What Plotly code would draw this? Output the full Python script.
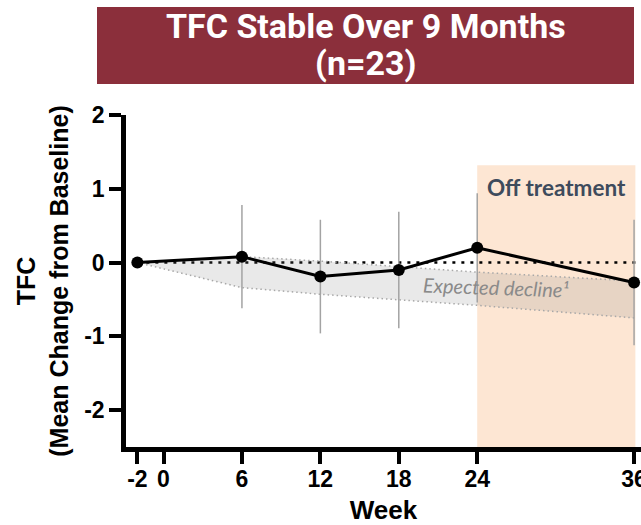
import plotly.graph_objects as go

# Study visits (weeks) and TFC mean change from baseline with SD
weeks = [-2, 6, 12, 18, 24, 36]
tfc_mean = [0.0, 0.08, -0.19, -0.10, 0.20, -0.27]
tfc_sd = [0.0, 0.70, 0.77, 0.79, 0.74, 0.85]

# Expected natural-history decline band
decline_upper = [0.0, 0.08, 0.02, -0.05, -0.13, -0.25]
decline_lower = [0.0, -0.34, -0.43, -0.50, -0.58, -0.75]

x_tickvals = [-2, 0, 6, 12, 18, 24, 36]
x_ticktext = ["-2", "0", "6", "12", "18", "24", "36"]
y_tickvals = [-2, -1, 0, 1, 2]
y_ticktext = ["-2", "-1", "0", "1", "2"]

title_lines = ["TFC Stable Over 9 Months", "(n=23)"]

off_start, off_end, off_top = 24, 36.1, 1.32

W, H = 641, 525
ML, MR, MT, MB = 126, 0, 115, 78
X_RANGE = [-2.87, 36.53]
Y_RANGE = [-2.5, 2.0]
PW, PH = W - ML - MR, H - MT - MB


def px_x(p):
    return (p - ML) / PW


def px_y(p):
    return (H - MB - p) / PH


AX_FONT = "Liberation Sans, Arial, sans-serif"

fig = go.Figure()

# expected decline band
fig.add_trace(go.Scatter(
    x=weeks, y=decline_upper, mode="lines",
    line=dict(color="#a8a8a8", width=1.5, dash="1.5px,3px"),
    hoverinfo="skip", showlegend=False))
fig.add_trace(go.Scatter(
    x=weeks, y=decline_lower, mode="lines", fill="tonexty",
    fillcolor="rgba(125,125,125,0.17)",
    line=dict(color="#a8a8a8", width=1.5, dash="1.5px,3px"),
    hoverinfo="skip", showlegend=False))

# observed mean change
fig.add_trace(go.Scatter(
    x=weeks, y=tfc_mean, mode="lines+markers",
    line=dict(color="black", width=3),
    marker=dict(color="black", size=12),
    error_y=dict(type="data", array=tfc_sd, visible=True,
                 color="#a3a3a3", thickness=1.5, width=0),
    showlegend=False))

shapes = [
    dict(type="rect", xref="x", yref="y", x0=off_start, x1=off_end,
         y0=Y_RANGE[0], y1=off_top, fillcolor="#fde6d3",
         line=dict(width=0), layer="below"),
    dict(type="line", xref="x", yref="y", x0=-2, x1=X_RANGE[1], y0=0, y1=0,
         line=dict(color="black", width=2.5, dash="3px,6px"), layer="below"),
    dict(type="rect", xref="paper", yref="paper",
         x0=px_x(97), x1=px_x(634), y0=px_y(84), y1=px_y(7),
         fillcolor="#8b2f3b", line=dict(width=0), layer="above"),
]

title_font = dict(family="Roboto, sans-serif", size=34, color="white",
                  weight="bold")
annotations = [
    dict(text=title_lines[0], xref="paper", yref="paper",
         x=px_x(365.5), y=px_y(26), xanchor="center", yanchor="middle",
         showarrow=False, font=title_font),
    dict(text=title_lines[1], xref="paper", yref="paper",
         x=px_x(365.5), y=px_y(63), xanchor="center", yanchor="middle",
         showarrow=False, font=title_font),
    dict(text="Off treatment", xref="x", yref="y", x=30.1, y=1.02,
         xanchor="center", yanchor="middle", showarrow=False,
         font=dict(family="Lato, sans-serif", size=22.5, color="#3e4b5c",
                   weight="bold")),
    dict(text="<i>Expected decline¹</i>", xref="x", yref="y", x=25.4, y=-0.335,
         xanchor="center", yanchor="middle", showarrow=False, textangle=2,
         font=dict(family="Lato, sans-serif", size=20, color="#8a8a8a")),
]

fig.update_layout(
    template="none",
    width=W, height=H,
    margin=dict(l=ML, r=MR, t=MT, b=MB, pad=0),
    paper_bgcolor="white", plot_bgcolor="white",
    shapes=shapes, annotations=annotations,
    showlegend=False,
    xaxis=dict(
        range=X_RANGE, tickmode="array", tickvals=x_tickvals, ticktext=x_ticktext,
        showgrid=False, zeroline=False, showline=True, linecolor="black",
        linewidth=4.5, ticks="outside", ticklen=12, tickwidth=4,
        tickcolor="black", automargin=False, ticklabeloverflow="allow",
        ticklabelstandoff=-4,
        tickfont=dict(family=AX_FONT, size=23, color="black", weight="bold"),
        title=dict(text="Week", standoff=14,
                   font=dict(family=AX_FONT, size=26, color="black",
                             weight="bold")),
    ),
    yaxis=dict(
        range=Y_RANGE, tickmode="array", tickvals=y_tickvals, ticktext=y_ticktext,
        showgrid=False, zeroline=False, showline=True, linecolor="black",
        linewidth=4.5, ticks="outside", ticklen=12, tickwidth=4,
        tickcolor="black", automargin=False,
        tickfont=dict(family=AX_FONT, size=23, color="black", weight="bold"),
        title=dict(text="TFC<br>(Mean Change from Baseline)", standoff=10,
                   font=dict(family=AX_FONT, size=25, color="black",
                             weight="bold")),
    ),
)

fig.write_html("out.html")
